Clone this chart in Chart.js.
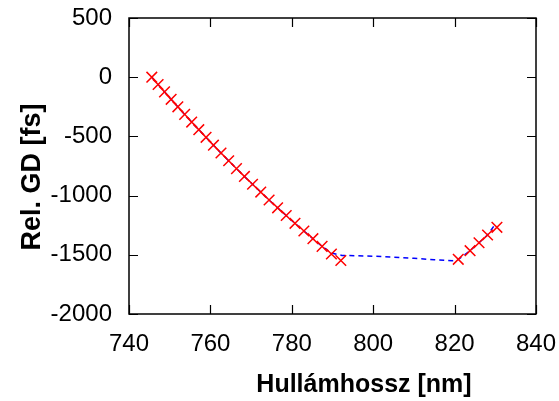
<!DOCTYPE html>
<html>
<head>
<meta charset="utf-8">
<script src="https://cdn.jsdelivr.net/npm/chart.js@4/dist/chart.umd.min.js"></script>
<style>
html,body{margin:0;padding:0;background:#fff;}
#wrap{width:559px;height:401px;}
</style>
</head>
<body>
<div id="wrap"><canvas id="c" width="559" height="401"></canvas></div>
<script>
// Measured points (red crosses)
const markerX = [745.6, 747.15, 748.73, 750.35, 752.0, 753.68, 755.4, 757.15, 758.93, 760.75,
  762.6, 764.49, 766.41, 768.36, 770.35, 772.37, 774.42, 776.51, 778.63, 780.78,
  782.97, 785.19, 787.44, 789.73, 792.05,
  820.9, 823.8, 826.0, 828.1, 830.4];
const markerY = [0, -62, -124, -187, -250, -314, -379, -443, -508, -574,
  -640, -706, -772, -838, -904, -970, -1037, -1103, -1168, -1234,
  -1299, -1364, -1429, -1493, -1548,
  -1538, -1465, -1398, -1333, -1268];
// Blue dashed curve
const curveX = [745.6, 747.15, 748.73, 750.35, 752.0, 753.68, 755.4, 757.15, 758.93, 760.75,
  762.6, 764.49, 766.41, 768.36, 770.35, 772.37, 774.42, 776.51, 778.63, 780.78,
  782.97, 785.19, 787.44, 789.73, 792.3, 796, 800, 805, 810, 815, 819.5,
  820.9, 823.8, 826.0, 828.1, 830.0];
const curveY = [0, -62, -124, -187, -250, -314, -379, -443, -508, -574,
  -640, -706, -772, -838, -904, -970, -1037, -1103, -1168, -1234,
  -1299, -1364, -1429, -1485, -1505, -1508, -1512, -1520, -1530, -1541, -1550,
  -1540, -1465, -1398, -1333, -1240];
const xTicks = [740, 760, 780, 800, 820, 840];
const yTicks = [500, 0, -500, -1000, -1500, -2000];
const xTitle = 'Hullámhossz [nm]';
const yTitle = 'Rel. GD [fs]';

const FONT = "'Liberation Sans', Arial, sans-serif";

const framePlugin = {
  id: 'frame',
  afterDatasetsDraw(chart) {
    const {ctx, chartArea: a, scales} = chart;
    ctx.save();
    ctx.strokeStyle = '#000';
    ctx.lineWidth = 1.5;
    ctx.strokeRect(a.left, a.top, a.right - a.left, a.bottom - a.top);
    const L = 9;
    ctx.lineWidth = 1.2;
    ctx.beginPath();
    xTicks.forEach(v => {
      const px = Math.round(scales.x.getPixelForValue(v)) + 0.5;
      ctx.moveTo(px, a.bottom); ctx.lineTo(px, a.bottom - L);
      ctx.moveTo(px, a.top); ctx.lineTo(px, a.top + L);
    });
    yTicks.forEach(v => {
      const py = Math.round(scales.y.getPixelForValue(v)) + 0.5;
      ctx.moveTo(a.left, py); ctx.lineTo(a.left + L, py);
      ctx.moveTo(a.right, py); ctx.lineTo(a.right - L, py);
    });
    ctx.stroke();
    // axis titles
    ctx.fillStyle = '#000';
    ctx.font = "bold 25px " + FONT;
    ctx.textAlign = 'center';
    ctx.textBaseline = 'alphabetic';
    ctx.fillText(xTitle, 364, 392);
    ctx.font = "bold 27px " + FONT;
    ctx.translate(40, 177);
    ctx.rotate(-Math.PI / 2);
    ctx.fillText(yTitle, 0, 0);
    ctx.restore();
  }
};

new Chart(document.getElementById('c'), {
  type: 'scatter',
  data: {
    datasets: [
      {
        label: 'curve',
        data: curveX.map((x, i) => ({x, y: curveY[i]})),
        showLine: true,
        borderColor: '#0000ff',
        borderWidth: 1.5,
        borderDash: [5, 4],
        pointRadius: 0,
        fill: false,
        order: 2
      },
      {
        label: 'points',
        data: markerX.map((x, i) => ({x, y: markerY[i]})),
        showLine: false,
        pointStyle: 'crossRot',
        pointRadius: 7.5,
        pointBorderColor: '#ff0000',
        pointBorderWidth: 1.5,
        order: 1
      }
    ]
  },
  options: {
    responsive: false,
    animation: false,
    layout: {padding: {top: 18, right: 23, left: 0, bottom: 0}},
    plugins: {legend: {display: false}, tooltip: {enabled: false}},
    scales: {
      x: {
        type: 'linear', min: 740, max: 840,
        afterBuildTicks: s => { s.ticks = xTicks.map(v => ({value: v})); },
        afterFit: s => { s.height = 87; s.paddingLeft = 0; s.paddingRight = 0; },
        grid: {display: false, drawTicks: false},
        border: {display: false},
        ticks: {color: '#000', font: {size: 24, family: FONT}, padding: 16, maxRotation: 0,
          callback: v => String(v)}
      },
      y: {
        type: 'linear', min: -2000, max: 500,
        afterBuildTicks: s => { s.ticks = yTicks.map(v => ({value: v})); },
        afterFit: s => { s.width = 129; s.paddingTop = 0; s.paddingBottom = 0; },
        grid: {display: false, drawTicks: false},
        border: {display: false},
        ticks: {color: '#000', font: {size: 24, family: FONT}, padding: 17,
          callback: v => String(v)}
      }
    }
  },
  plugins: [framePlugin]
});
</script>
</body>
</html>
